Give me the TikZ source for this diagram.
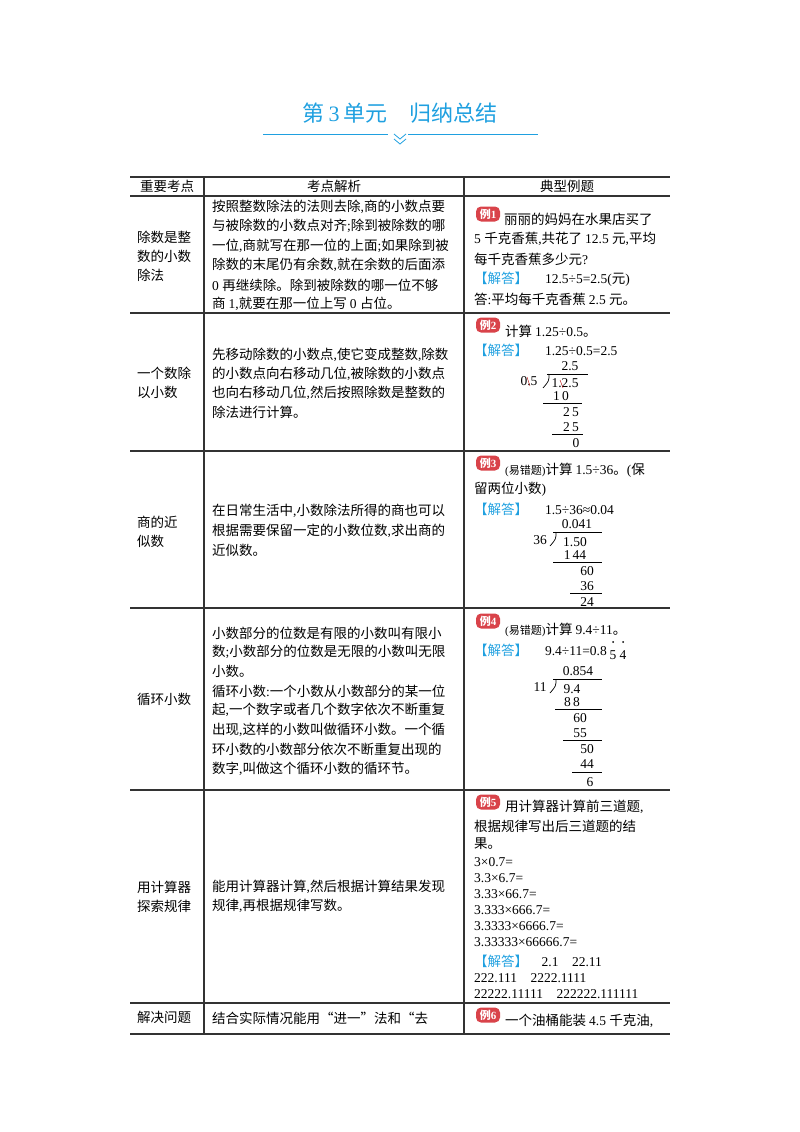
\documentclass[tikz,border=0pt]{standalone}
\usepackage{fontspec}
\setmainfont{Liberation Serif}
\newfontfamily\cjk{Noto Sans CJK SC}
\newfontfamily\serif{Liberation Serif}
\newfontfamily\badgefont{Noto Sans CJK SC}
\newXeTeXintercharclass\cjkcls
\count255="3000 \loop \XeTeXcharclass\count255=\cjkcls \ifnum\count255<"303F \advance\count255 1 \repeat
\count255="4E00 \loop \XeTeXcharclass\count255=\cjkcls \ifnum\count255<"9FFF \advance\count255 1 \repeat
\count255="FF00 \loop \XeTeXcharclass\count255=\cjkcls \ifnum\count255<"FFEF \advance\count255 1 \repeat
\XeTeXcharclass"201C=\cjkcls \XeTeXcharclass"201D=\cjkcls
\XeTeXinterchartoks 0 \cjkcls = {\cjk}
\XeTeXinterchartoks 4095 \cjkcls = {\cjk}
\XeTeXinterchartoks \cjkcls 0 = {\serif}
\XeTeXinterchartoks 4095 0 = {\serif}
\XeTeXinterchartokenstate=1
\definecolor{tblue}{HTML}{1FA0E0}
\definecolor{bred}{HTML}{D9434A}
\definecolor{rule}{HTML}{333333}
\begin{document}
\begin{tikzpicture}[x=1pt,y=-1pt,
  txt/.style={anchor=west,inner sep=0pt,font=\fontsize{13.5}{16}\selectfont},
  ctr/.style={anchor=center,inner sep=0pt,font=\fontsize{13.5}{16}\selectfont},
  num/.style={anchor=center,inner sep=0pt,font=\fontsize{13.5}{16}\selectfont},
  badge/.style={fill=bred,rounded corners=5pt,text=white,inner sep=1pt,minimum width=24pt,minimum height=15pt,font=\badgefont\bfseries\fontsize{11}{12}\selectfont},
  tline/.style={draw=rule,line width=1.1pt},
  dline/.style={draw=black,line width=0.7pt}]
\useasboundingbox (0,0) rectangle (800,1132);
\newcommand\Ans{\textcolor{tblue}{【解答】}}
% title
\node[inner sep=0pt,text=tblue,font=\fontsize{22}{24}\selectfont] (title) at (400,113) {第\,3\,单元\quad 归纳总结};
\draw[tblue,line width=0.6pt] (263,134) -- (388,134) (408,134) -- (538,134);
\draw[tblue,line width=0.8pt] (394,134) -- (400,139) -- (406,134) (394,139) -- (400,144) -- (406,139);
% table rules
\foreach \y in {177,196,313,451,608,790,1003,1034} \draw[tline] (130,\y) -- (670,\y);
\draw[tline] (204,177) -- (204,1034) (464,177) -- (464,1034);
% header
\node[ctr] (h1) at (167,186) {重要考点};
\node[ctr] (h2) at (334,186) {考点解析};
\node[ctr] (h3) at (567,186) {典型例题};
% column 1
\node[txt] at (137,237) {除数是整};
\node[txt] at (137,256) {数的小数};
\node[txt] at (137,275) {除法};
\node[txt] at (137,373) {一个数除};
\node[txt] at (137,392) {以小数};
\node[txt] at (137,522) {商的近};
\node[txt] at (137,541) {似数};
\node[txt] at (137,699) {循环小数};
\node[txt] at (137,887) {用计算器};
\node[txt] at (137,906) {探索规律};
\node[txt] at (137,1017) {解决问题};
% column 2
\node[txt] at (212,207) {按照整数除法的法则去除,商的小数点要};
\node[txt] at (212,226) {与被除数的小数点对齐;除到被除数的哪};
\node[txt] at (212,246) {一位,商就写在那一位的上面;如果除到被};
\node[txt] at (212,265) {除数的末尾仍有余数,就在余数的后面添};
\node[txt] at (212,285) {0 再继续除。除到被除数的哪一位不够};
\node[txt] at (212,304) {商 1,就要在那一位上写 0 占位。};
\node[txt] at (212,355) {先移动除数的小数点,使它变成整数,除数};
\node[txt] at (212,374) {的小数点向右移动几位,被除数的小数点};
\node[txt] at (212,393) {也向右移动几位,然后按照除数是整数的};
\node[txt] at (212,412) {除法进行计算。};
\node[txt] at (212,511) {在日常生活中,小数除法所得的商也可以};
\node[txt] at (212,531) {根据需要保留一定的小数位数,求出商的};
\node[txt] at (212,550) {近似数。};
\node[txt] at (212,633) {小数部分的位数是有限的小数叫有限小};
\node[txt] at (212,652) {数;小数部分的位数是无限的小数叫无限};
\node[txt] at (212,671) {小数。};
\node[txt] at (212,691) {循环小数:一个小数从小数部分的某一位};
\node[txt] at (212,710) {起,一个数字或者几个数字依次不断重复};
\node[txt] at (212,730) {出现,这样的小数叫做循环小数。一个循};
\node[txt] at (212,749) {环小数的小数部分依次不断重复出现的};
\node[txt] at (212,769) {数字,叫做这个循环小数的循环节。};
\node[txt] at (212,887) {能用计算器计算,然后根据计算结果发现};
\node[txt] at (212,906) {规律,再根据规律写数。};
\node[txt] at (212,1018) {结合实际情况能用“进一”法和“去};
% column 3 -- example 1
\node[badge] (b1) at (488,214) {例1};
\node[txt] at (504,219) {丽丽的妈妈在水果店买了};
\node[txt] at (474,239) {5 千克香蕉,共花了 12.5 元,平均};
\node[txt] at (474,259) {每千克香蕉多少元?};
\node[txt] at (474,279) {\Ans\quad\ 12.5÷5=2.5(元)};
\node[txt] at (474,299) {答:平均每千克香蕉 2.5 元。};
% example 2
\node[badge] (b2) at (488,325) {例2};
\node[txt] at (505,331) {计算 1.25÷0.5。};
\node[txt] at (474,350) {\Ans\quad\ 1.25÷0.5=2.5};
\node[num] at (570,366) {2.5};
\draw[dline] (547,374) -- (588,374);
\node[num] at (529,381) {0.5};
\draw[red!70!black,line width=0.4pt] (527,377) -- (530,386);
\draw[dline] (549,374) .. controls (549,381) .. (543,388);
\node[num] at (565,383) {1.2.5};
\draw[red!70!black,line width=0.4pt] (560,380) -- (563,388);
\node[num] at (561,396) {1\,0};
\draw[dline] (543,403) -- (582,403);
\node[num] at (571,412) {2\,5};
\node[num] at (571,427) {2\,5};
\draw[dline] (552,434) -- (583,434);
\node[num] at (576,443) {0};
% example 3
\node[badge] (b3) at (488,463) {例3};
\node[txt] at (505,470) {{\fontsize{11}{12}\selectfont(易错题)}计算 1.5÷36。(保};
\node[txt] at (474,489) {留两位小数)};
\node[txt] at (474,509) {\Ans\quad\ 1.5÷36≈0.04};
\node[num] at (577,524) {0.041};
\draw[dline] (553,532) -- (602,532);
\node[num] at (540,540) {36};
\draw[dline] (556,532) .. controls (556,539) .. (550,546);
\node[num] at (575,542) {1.50};
\node[num] at (575,555) {1\,44};
\draw[dline] (553,562) -- (602,562);
\node[num] at (587,571) {60};
\node[num] at (587,586) {36};
\draw[dline] (570,593) -- (602,593);
\node[num] at (587,602) {24};
% example 4
\node[badge] (b4) at (488,621) {例4};
\node[txt] at (505,630) {{\fontsize{11}{12}\selectfont(易错题)}计算 9.4÷11。};
\node[txt] (a4) at (474,650) {\Ans\quad\ 9.4÷11=0.8};
\node[num] (d5) at (613,655) {5};
\node[num] (d4) at (623,655) {4};
\fill (613,642) circle (1pt) (623,642) circle (1pt);
\node[num] at (578,671) {0.854};
\draw[dline] (553,679) -- (602,679);
\node[num] at (540,687) {11};
\draw[dline] (556,679) .. controls (556,686) .. (550,693);
\node[num] at (572,689) {9.4};
\node[num] at (572,702) {8\,8};
\draw[dline] (555,709) -- (602,709);
\node[num] at (580,718) {60};
\node[num] at (580,733) {55};
\draw[dline] (563,740) -- (602,740);
\node[num] at (587,749) {50};
\node[num] at (587,764) {44};
\draw[dline] (572,772) -- (602,772);
\node[num] at (590,782) {6};
% example 5
\node[badge] (b5) at (488,802) {例5};
\node[txt] at (505,807) {用计算器计算前三道题,};
\node[txt] at (474,826) {根据规律写出后三道题的结};
\node[txt] at (474,844) {果。};
\node[txt] at (474,862) {3×0.7=};
\node[txt] at (474,878) {3.3×6.7=};
\node[txt] at (474,894) {3.33×66.7=};
\node[txt] at (474,910) {3.333×666.7=};
\node[txt] at (474,926) {3.3333×6666.7=};
\node[txt] at (474,942) {3.33333×66666.7=};
\node[txt] at (474,961) {\Ans\quad 2.1\quad 22.11};
\node[txt] at (474,978) {222.111\quad 2222.1111};
\node[txt] at (474,994) {22222.11111\quad 222222.111111};
% example 6
\node[badge] (b6) at (488,1015) {例6};
\node[txt] at (505,1021) {一个油桶能装 4.5 千克油,};
\end{tikzpicture}
\end{document}
